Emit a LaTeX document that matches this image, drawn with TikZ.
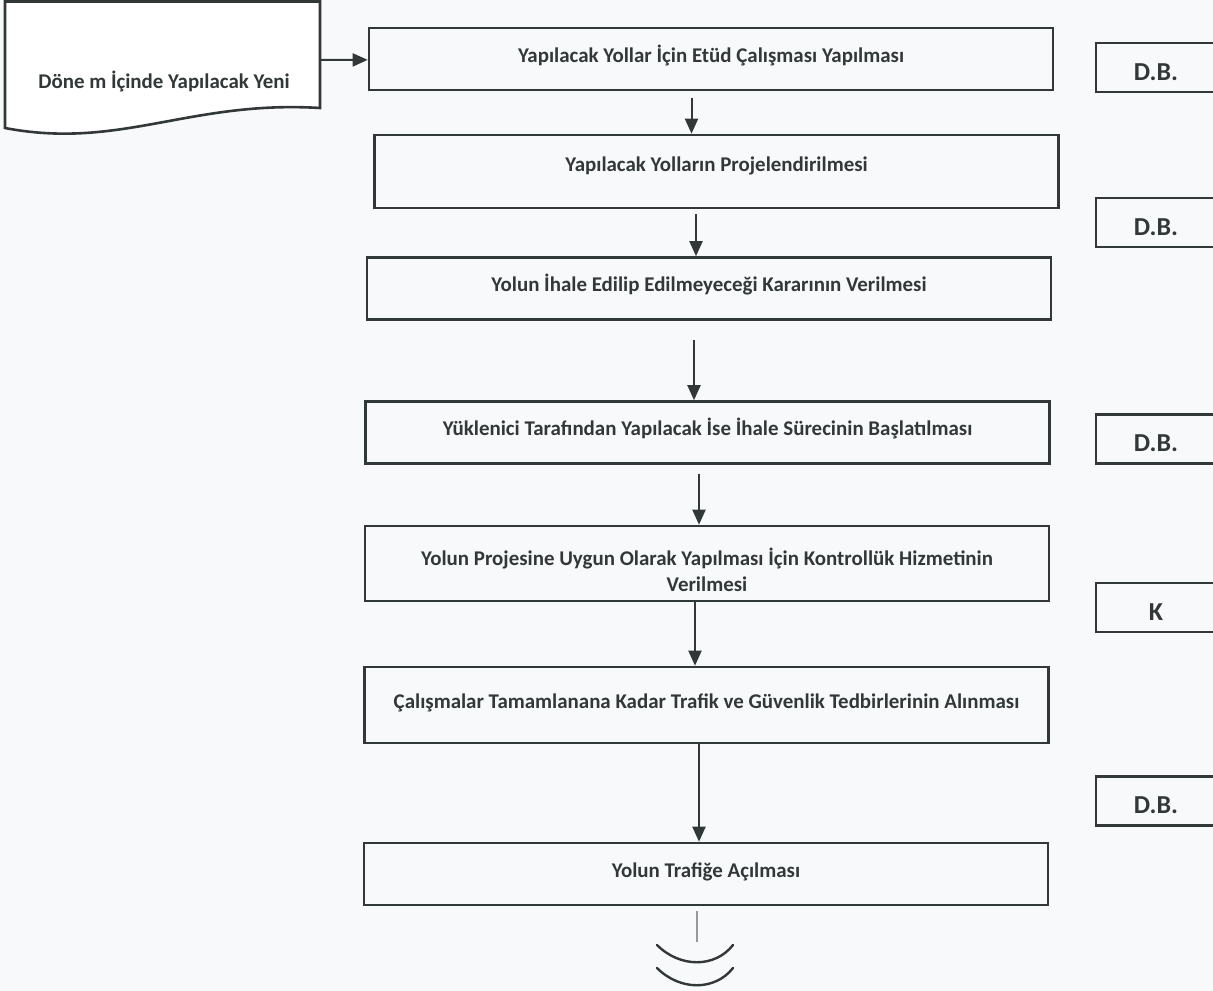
\documentclass[tikz,border=0pt]{standalone}
\usepackage{fontspec}
\setmainfont{Carlito}
\usetikzlibrary{arrows.meta}
\definecolor{ink}{RGB}{50,56,56}
\definecolor{paper}{RGB}{248,249,251}
\definecolor{stubgray}{RGB}{150,152,155}

\begin{document}
\begin{tikzpicture}[x=1bp,y=-1bp,
    stepbox/.style={draw=ink,line width=2.6bp,minimum width=684bp,minimum height=#1,
      inner sep=0pt,align=center,text=ink,text height=16bp,text depth=10bp,
      font=\fontsize{21}{26}\bfseries\selectfont},
    stepbox/.default=62bp,
    rolebox/.style={draw=ink,line width=2.6bp,minimum width=120bp,minimum height=49bp,
      inner sep=0pt,text=ink,text height=25bp,text depth=0bp,
      font=\fontsize{26}{30}\bfseries\selectfont},
    flow/.style={draw=ink,line width=2bp,-{Triangle[length=15bp,width=13bp]}},
    stub/.style={draw=stubgray,line width=1.8bp},
    curl/.style={draw=ink,line width=2.4bp,line cap=round}]
      \useasboundingbox (0,0) rectangle (1213,991);
      \clip (0,0) rectangle (1213,991);
      \fill[paper] (0,0) rectangle (1213,991);
      \draw[ink,line width=2.6bp,fill=white] (5,1.5) -- (320,1.5) -- (320,108)
        .. controls (190,100) and (120,150) .. (5,128) -- cycle;
      \draw
        (164,82) node[text=ink,font=\fontsize{21}{26}\bfseries\selectfont] (src) {Döne m İçinde Yapılacak Yeni}
        (320,60) coordinate (srcout)
        (711,59) node[stepbox] (b1) {Yapılacak Yollar İçin Etüd Çalışması Yapılması}
        (716.5,171.5) node[stepbox=73bp,text depth=17bp] (b2) {Yapılacak Yolların Projelendirilmesi}
        (709,288.5) node[stepbox] (b3) {Yolun İhale Edilip Edilmeyeceği Kararının Verilmesi}
        (707.5,432.5) node[stepbox] (b4) {Yüklenici Tarafından Yapılacak İse İhale Sürecinin Başlatılması}
        (707,563.5) node[stepbox=75bp,text height=60bp,text depth=5bp] (b5) {Yolun Projesine Uygun Olarak Yapılması İçin Kontrollük Hizmetinin\\Verilmesi}
        (706.5,705) node[stepbox=76bp] (b6) {Çalışmalar Tamamlanana Kadar Trafik ve Güvenlik Tedbirlerinin Alınması}
        (706,874) node[stepbox] (b7) {Yolun Trafiğe Açılması}
        (1156,67.5) node[rolebox] (r1) {D.B.}
        (1156,222.5) node[rolebox] (r2) {D.B.}
        (1156,439) node[rolebox] (r3) {D.B.}
        (1156,607.5) node[rolebox] (r4) {K}
        (1156,801) node[rolebox] (r5) {D.B.}
        (697,942) coordinate (stubend);
      \begin{scope}[flow]
        \draw (srcout) to (b1);
        \draw[shorten <=7bp] ([xshift=-19.5bp]b1.south) to ([xshift=-19.5bp]b1.south |- b2.north);
        \draw[shorten <=5bp] ([xshift=-20.5bp]b2.south) to ([xshift=-20.5bp]b2.south |- b3.north);
        \draw[shorten <=19bp] ([xshift=-15bp]b3.south) to ([xshift=-15bp]b3.south |- b4.north);
        \draw[shorten <=9bp] ([xshift=-8.5bp]b4.south) to ([xshift=-8.5bp]b4.south |- b5.north);
        \draw ([xshift=-12bp]b5.south) to ([xshift=-12bp]b5.south |- b6.north);
        \draw ([xshift=-7.5bp]b6.south) to ([xshift=-7.5bp]b6.south |- b7.north);
      \end{scope}
      \draw[stub,shorten <=5bp] (b7.south -| stubend) to (stubend);
      \draw[curl] (657,945) .. controls (680,968) and (715,968) .. (733,945);
      \draw[curl] (657,968) .. controls (680,991) and (715,991) .. (733,968);
    \end{tikzpicture}
\end{document}
